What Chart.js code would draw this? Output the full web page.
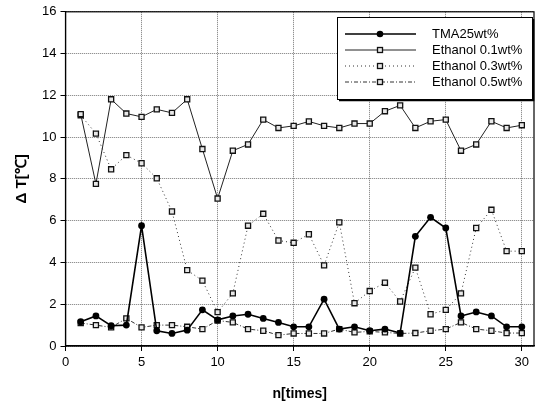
<!DOCTYPE html>
<html>
<head>
<meta charset="utf-8">
<script src="https://cdn.jsdelivr.net/npm/chart.js@4.4.0/dist/chart.umd.min.js"></script>
<style>
  html, body { margin: 0; padding: 0; background: #fff; }
  #wrap { width: 541px; height: 407px; }
</style>
</head>
<body>
<div id="wrap"><canvas id="chart" width="541" height="407"></canvas></div>
<script>
const runs = [1, 2, 3, 4, 5, 6, 7, 8, 9, 10, 11, 12, 13, 14, 15, 16, 17, 18, 19, 20, 21, 22, 23, 24, 25, 26, 27, 28, 29, 30];
const tma25 = [1.16, 1.44, 0.97, 1.0, 5.76, 0.73, 0.6, 0.76, 1.73, 1.25, 1.44, 1.52, 1.32, 1.13, 0.92, 0.92, 2.24, 0.81, 0.92, 0.73, 0.81, 0.62, 5.25, 6.16, 5.65, 1.44, 1.63, 1.44, 0.92, 0.92];
const eth01 = [11.1, 7.76, 11.81, 11.13, 10.97, 11.33, 11.16, 11.81, 9.43, 7.06, 9.35, 9.65, 10.84, 10.44, 10.54, 10.75, 10.54, 10.44, 10.65, 10.65, 11.24, 11.52, 10.44, 10.76, 10.84, 9.35, 9.65, 10.76, 10.44, 10.57];
const eth03 = [11.05, 10.17, 8.46, 9.14, 8.75, 8.03, 6.44, 3.63, 3.13, 1.62, 2.52, 5.76, 6.33, 5.05, 4.94, 5.35, 3.86, 5.92, 2.05, 2.63, 3.03, 2.13, 3.75, 1.52, 1.73, 2.52, 5.65, 6.52, 4.54, 4.54];
const eth05 = [1.1, 1.0, 0.89, 1.32, 0.89, 1.0, 1.0, 0.92, 0.81, 1.22, 1.13, 0.81, 0.73, 0.52, 0.6, 0.6, 0.6, 0.81, 0.65, 0.7, 0.65, 0.6, 0.62, 0.73, 0.81, 1.13, 0.81, 0.73, 0.62, 0.62];
const seriesNames = ["TMA25wt%", "Ethanol 0.1wt%", "Ethanol 0.3wt%", "Ethanol 0.5wt%"];

const pts = (ys) => ys.map((y, i) => ({ x: runs[i], y: y }));

const sq = {
  pointStyle: "rect",
  pointRadius: 3.6,
  pointBorderWidth: 1.3,
  pointBorderColor: "#111",
  pointBackgroundColor: "#e8e8e8",
};

// legend box drawn inside the plot, like the original figure
const boxLegend = {
  id: "boxLegend",
  afterDraw(chart) {
    const ctx = chart.ctx;
    const a = chart.chartArea;
    ctx.save();
    // plot frame
    ctx.strokeStyle = "#000";
    ctx.lineWidth = 1.2;
    ctx.strokeRect(a.left, a.top, a.right - a.left, a.bottom - a.top);

    const x0 = 337, y0 = 17, w = 195, h = 82;
    ctx.fillStyle = "#fff";
    ctx.fillRect(x0, y0, w, h);
    ctx.strokeStyle = "#000";
    ctx.lineWidth = 1;
    ctx.strokeRect(x0 + 0.5, y0 + 0.5, w, h);
    ctx.lineWidth = 1.6;
    ctx.beginPath();
    ctx.moveTo(x0 + 2, y0 + h + 1.5);
    ctx.lineTo(x0 + w + 1.5, y0 + h + 1.5);
    ctx.lineTo(x0 + w + 1.5, y0 + 2);
    ctx.stroke();

    ctx.font = "13px 'Liberation Sans', Arial, sans-serif";
    ctx.textBaseline = "middle";
    chart.data.datasets.forEach((ds, i) => {
      const yy = y0 + 17 + i * 16;
      ctx.strokeStyle = ds.borderColor;
      ctx.lineWidth = ds.borderWidth;
      ctx.setLineDash(ds.borderDash || []);
      ctx.beginPath();
      ctx.moveTo(x0 + 8, yy);
      ctx.lineTo(x0 + 79, yy);
      ctx.stroke();
      ctx.setLineDash([]);
      const cx = x0 + 43;
      if (ds.pointStyle === "circle") {
        ctx.fillStyle = "#000";
        ctx.beginPath();
        ctx.arc(cx, yy, 3.3, 0, Math.PI * 2);
        ctx.fill();
      } else {
        ctx.fillStyle = "#e8e8e8";
        ctx.strokeStyle = "#111";
        ctx.lineWidth = 1.3;
        ctx.fillRect(cx - 2.5, yy - 2.5, 5, 5);
        ctx.strokeRect(cx - 2.5, yy - 2.5, 5, 5);
      }
      ctx.fillStyle = "#000";
      ctx.fillText(ds.label, x0 + 95, yy);
    });
    ctx.restore();
  },
};

new Chart(document.getElementById("chart"), {
  type: "line",
  data: {
    datasets: [
      {
        label: seriesNames[0],
        data: pts(tma25),
        borderColor: "#000",
        borderWidth: 1.6,
        pointStyle: "circle",
        pointRadius: 3.4,
        pointBackgroundColor: "#000",
        pointBorderColor: "#000",
        pointBorderWidth: 0,
        order: 0,
      },
      Object.assign({
        label: seriesNames[1],
        data: pts(eth01),
        borderColor: "#222",
        borderWidth: 1,
        order: 1,
      }, sq),
      Object.assign({
        label: seriesNames[2],
        data: pts(eth03),
        borderColor: "#333",
        borderWidth: 1,
        borderDash: [1, 3],
        order: 2,
      }, sq),
      Object.assign({
        label: seriesNames[3],
        data: pts(eth05),
        borderColor: "#333",
        borderWidth: 1,
        borderDash: [4, 2, 1, 2],
        order: 3,
      }, sq),
    ],
  },
  options: {
    responsive: false,
    animation: false,
    layout: { padding: { top: 11, right: 7, left: 13, bottom: 0 } },
    plugins: { legend: { display: false }, tooltip: { enabled: false } },
    elements: { line: { tension: 0, fill: false } },
    scales: {
      x: {
        type: "linear",
        min: 0,
        max: 30.8,
        afterFit(s) { s.height = 61; },
        ticks: {
          stepSize: 5,
          includeBounds: false,
          color: "#000",
          padding: 4,
          font: { family: "'Liberation Sans', Arial, sans-serif", size: 13 },
        },
        grid: { color: "#777", tickColor: "#000", tickLength: 5, tickBorderDash: [] },
        border: { display: true, color: "#000", width: 1.2, dash: [1, 1] },
        title: {
          display: true,
          text: "n[times]",
          color: "#000",
          padding: { top: 6 },
          font: { family: "'Liberation Sans', Arial, sans-serif", size: 14, weight: "bold" },
        },
      },
      y: {
        min: 0,
        max: 16,
        afterFit(s) { s.width = 52.5; },
        ticks: {
          stepSize: 2,
          color: "#000",
          padding: 4,
          font: { family: "'Liberation Sans', Arial, sans-serif", size: 13 },
        },
        grid: { color: "#777", tickColor: "#000", tickLength: 5, tickBorderDash: [] },
        border: { display: true, color: "#000", width: 1.2, dash: [1, 1] },
        title: {
          display: true,
          text: "Δ T[℃]",
          color: "#000",
          padding: { top: 0, bottom: 0 },
          font: { family: "'Liberation Sans', Arial, sans-serif", size: 15, weight: "bold" },
        },
      },
    },
  },
  plugins: [boxLegend],
});
</script>
</body>
</html>
